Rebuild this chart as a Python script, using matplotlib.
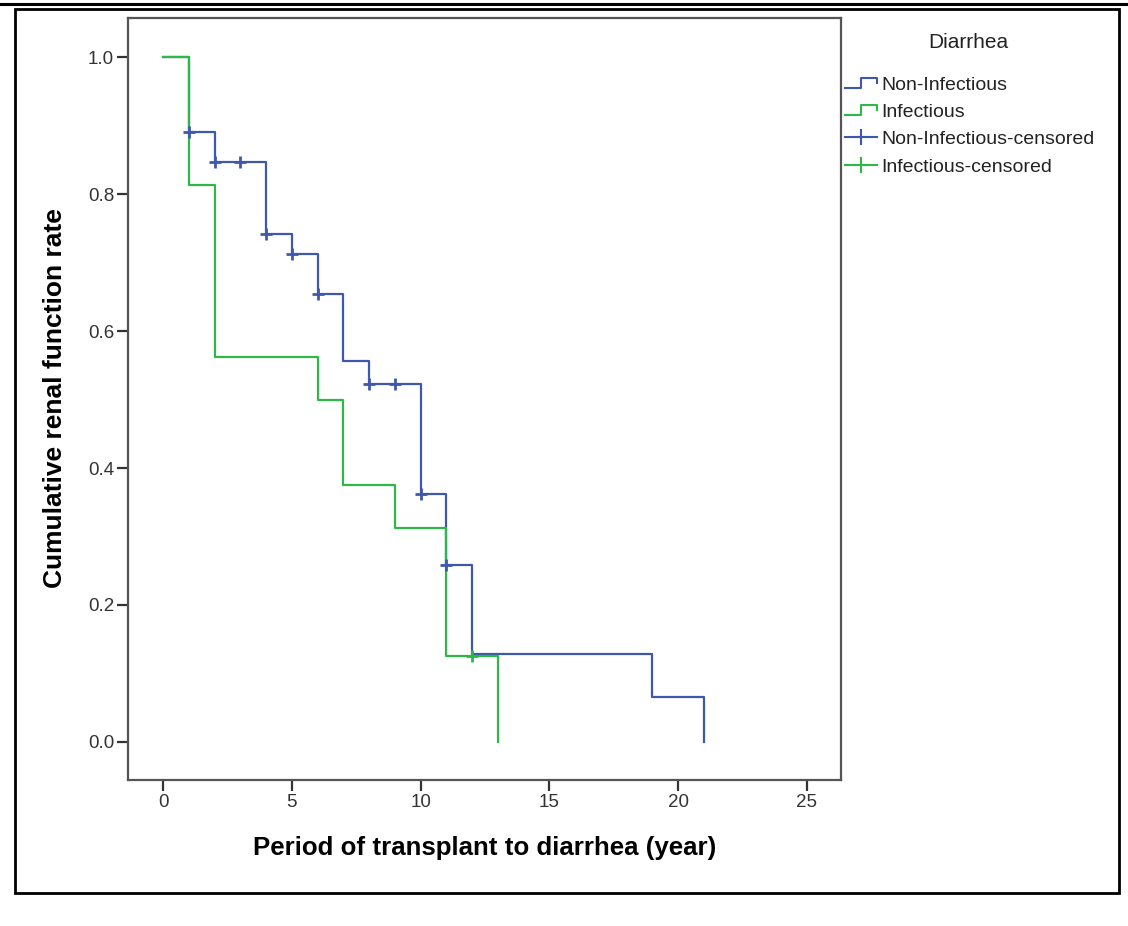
import matplotlib
matplotlib.use('Agg')
import matplotlib.pyplot as plt
from matplotlib.lines import Line2D
from matplotlib.patches import Rectangle
from matplotlib.legend_handler import HandlerBase

plt.rcParams['font.family'] = ['Liberation Sans', 'DejaVu Sans']

# Kaplan-Meier steps
non_inf_time = [0, 1, 2, 4, 5, 6, 7, 8, 10, 11, 12, 19, 21]
non_inf_surv = [1.0, 0.891, 0.847, 0.741, 0.713, 0.654, 0.556, 0.523, 0.362, 0.259, 0.129, 0.065, 0.0]
inf_time = [0, 1, 2, 6, 7, 9, 11, 13]
inf_surv = [1.0, 0.8125, 0.5625, 0.5, 0.375, 0.3125, 0.125, 0.0]

# censored observations
non_inf_cens_time = [1, 2, 3, 4, 5, 6, 8, 9, 10, 11]
non_inf_cens_surv = [0.891, 0.847, 0.847, 0.741, 0.713, 0.654, 0.523, 0.523, 0.362, 0.259]
inf_cens_time = [12]
inf_cens_surv = [0.125]

x_ticks = [0, 5, 10, 15, 20, 25]
y_ticks = [0.0, 0.2, 0.4, 0.6, 0.8, 1.0]
group_names = ['Non-Infectious', 'Infectious']

BLUE = '#3e58ac'
GREEN = '#2eb848'


class StepHandler(HandlerBase):
    # small step glyph like the SPSS legend
    def create_artists(self, legend, orig_handle, xd, yd, width, height, fontsize, trans):
        xs = [0, 0.5 * width, 0.5 * width, width, width]
        ys = [0.15 * height, 0.15 * height, 0.85 * height, 0.85 * height, 0.5 * height]
        ln = Line2D([x - xd for x in xs], [y - yd for y in ys], color=orig_handle.get_color(),
                    lw=1.5, transform=trans)
        return [ln]


fig = plt.figure(figsize=(11.28, 9.26), dpi=100)
W, H = 1128, 926

# outer decoration: top rule and frame
fig.add_artist(Line2D([0, 1], [1 - 4 / H, 1 - 4 / H], color='black', lw=2.2, transform=fig.transFigure))
fig.add_artist(Rectangle((15 / W, 1 - 893 / H), (1119 - 15) / W, (893 - 9) / H, fill=False,
                         edgecolor='black', lw=2.0, transform=fig.transFigure))

ax = fig.add_axes([128 / W, 1 - 780 / H, (841 - 128) / W, (780 - 18) / H])
ax.step(non_inf_time, non_inf_surv, where='post', color=BLUE, lw=1.6)
ax.step(inf_time, inf_surv, where='post', color=GREEN, lw=1.6)
ax.plot(non_inf_cens_time, non_inf_cens_surv, ls='none', marker='+', ms=9, mew=2, color=BLUE)
ax.plot(inf_cens_time, inf_cens_surv, ls='none', marker='+', ms=9, mew=2, color=GREEN)

ax.set_xlim(-1.36, 26.32)
ax.set_ylim(-0.0555, 1.057)
ax.set_xticks(x_ticks)
ax.set_yticks(y_ticks)
ax.set_xticklabels([str(t) for t in x_ticks])
ax.set_yticklabels(['%.1f' % t for t in y_ticks])
ax.tick_params(direction='out', length=8, width=1.6, color='#333333', labelsize=13.5,
               labelcolor='#333333', pad=2)
for side in ax.spines.values():
    side.set_color('#555555')
    side.set_linewidth(1.6)

ax.set_xlabel('Period of transplant to diarrhea (year)', fontsize=18.6, fontweight='bold', va='center')
ax.xaxis.set_label_coords(0.5, (780 - 848) / 762)
ax.set_ylabel('Cumulative renal function rate', fontsize=19, fontweight='bold', va='center')
ax.yaxis.set_label_coords((55 - 128) / 713, (780 - 398) / 762)

fig.text(968 / W, 1 - 43 / H, 'Diarrhea', ha='center', va='center', fontsize=15, color='#222222')

handles = [Line2D([], [], color=BLUE), Line2D([], [], color=GREEN),
           Line2D([], [], color=BLUE, marker='+', ms=11, mew=1.5, lw=1.5),
           Line2D([], [], color=GREEN, marker='+', ms=11, mew=1.5, lw=1.5)]
labels = group_names + [g + '-censored' for g in group_names]
leg = fig.legend(handles, labels, loc='upper left',
                 bbox_to_anchor=(845 / W, 1 - 76 / H), frameon=False, fontsize=14,
                 handlelength=1.65, handletextpad=0.2, labelspacing=0.5,
                 borderaxespad=0, borderpad=0,
                 handler_map={handles[0]: StepHandler(), handles[1]: StepHandler()})
for t in leg.get_texts():
    t.set_color('#222222')

fig.savefig('out.png', dpi=100)
